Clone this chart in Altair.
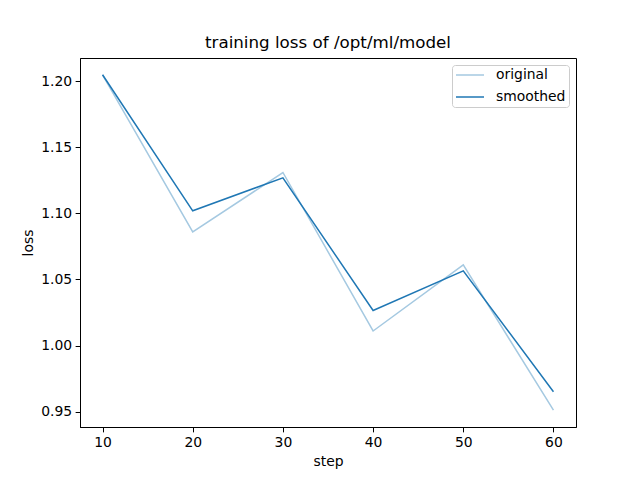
import altair as alt
import pandas as pd

steps = [10, 20, 30, 40, 50, 60]
original = [1.205, 1.086, 1.131, 1.011, 1.061, 0.951]
smoothed = [1.205, 1.102, 1.127, 1.0265, 1.0565, 0.965]
series_names = ["original", "smoothed"]
series_colors = ["#a5c9e1", "#1f77b4"]
y_ticks = [0.95, 1.00, 1.05, 1.10, 1.15, 1.20]
x_ticks = [10, 20, 30, 40, 50, 60]

df_o = pd.DataFrame({"step": steps, "loss": original, "series": "original"})
df_s = pd.DataFrame({"step": steps, "loss": smoothed, "series": "smoothed"})

FONT = "DejaVu Sans"

color = alt.Color(
    "series:N",
    scale=alt.Scale(domain=series_names, range=series_colors),
    legend=alt.Legend(
        title=None,
        orient="top-right",
        offset=7,
        symbolType="stroke",
        symbolSize=784,
        symbolStrokeWidth=1.5,
        clipHeight=14,
        labelFont=FONT,
        labelFontSize=13.9,
        labelColor="black",
        labelOffset=11,
        padding=3,
        rowPadding=8,
        fillColor="white",
        strokeColor="#cccccc",
        cornerRadius=3,
    ),
)

x = alt.X(
    "step:Q",
    scale=alt.Scale(domain=[7.5, 62.5], nice=False, zero=False),
    axis=alt.Axis(values=x_ticks, format="d", title="step"),
)
y = alt.Y(
    "loss:Q",
    scale=alt.Scale(domain=[0.9383, 1.2177], nice=False, zero=False),
    axis=alt.Axis(values=y_ticks, format=".2f", title="loss"),
)

l1 = alt.Chart(df_o).mark_line(strokeWidth=1.5).encode(x=x, y=y, color=color)
l2 = alt.Chart(df_s).mark_line(strokeWidth=1.5).encode(x=x, y=y, color=color)

chart = (
    alt.layer(l1, l2)
    .properties(
        width=496,
        height=369,
        title=alt.TitleParams(
            "training loss of /opt/ml/model",
            font=FONT,
            fontSize=16.7,
            fontWeight="normal",
            color="black",
            offset=6,
        ),
        autosize=alt.AutoSizeParams(type="none"),
        padding={"left": 80, "top": 58, "right": 64, "bottom": 53},
    )
    .configure_view(stroke="black", strokeWidth=1)
    .configure_axis(
        grid=False,
        domainColor="black",
        domainWidth=1,
        tickColor="black",
        tickSize=4.86,
        tickWidth=1,
        labelFont=FONT,
        labelFontSize=13.9,
        labelColor="black",
        labelPadding=3.5,
        titleFont=FONT,
        titleFontSize=13.9,
        titleFontWeight="normal",
        titleColor="black",
        titlePadding=5.6,
    )
)

chart.save("out.html", embed_options={"renderer": "svg", "actions": False})
